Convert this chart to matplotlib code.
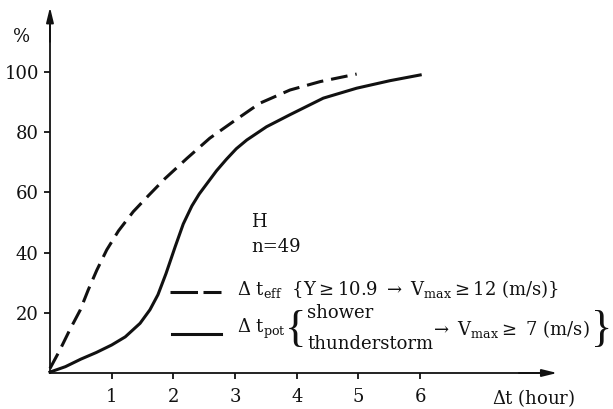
import numpy as np
import matplotlib
matplotlib.use("Agg")
from matplotlib import pyplot as plt

plt.rcParams['font.family'] = ['DejaVu Serif']
plt.rcParams['mathtext.fontset'] = 'dejavuserif'

# dashed curve: delta t_eff
eff_x = [0, 0.16, 0.32, 0.49, 0.62, 0.76, 0.92, 1.11, 1.35, 1.59, 1.86, 2.22, 2.59, 2.97, 3.40, 3.89, 4.38, 4.97]
eff_y = [1.5, 7.6, 14.3, 20.9, 27.6, 34.2, 40.9, 47.2, 53.6, 58.8, 64.5, 71.3, 78, 83.5, 89.6, 94, 96.8, 99.3]

# solid curve: delta t_pot
pot_x = [0, 0.25, 0.5, 0.75, 1.0, 1.22, 1.46, 1.62, 1.75, 1.88, 2.03, 2.16, 2.3, 2.42, 2.54, 2.7, 2.86,
         3.02, 3.19, 3.51, 3.89, 4.43, 4.97, 5.51, 6.0]
pot_y = [0.3, 2.1, 4.6, 6.8, 9.3, 12, 16.5, 21, 26, 33, 42, 49.5, 55.5, 59.5, 62.8, 67.2, 71,
         74.5, 77.4, 81.8, 85.8, 91.3, 94.6, 97.1, 99]

xticks = [1, 2, 3, 4, 5, 6]
yticks = [20, 40, 60, 80, 100]

ink = '#111111'

fig = plt.figure(figsize=(6.13, 4.09), dpi=100)
ax = fig.add_axes([0, 0, 1, 1])
ax.set_xlim(-0.81, 9.125)
ax.set_ylim(-11.96, 123.9)

ax.plot(eff_x, eff_y, color=ink, lw=2.2, dashes=(5.5, 2.6), solid_joinstyle='round')
ax.plot(pot_x, pot_y, color=ink, lw=2.2, solid_joinstyle='round')

# axes through the origin with arrows
for s in ['top', 'right']:
    ax.spines[s].set_visible(False)
ax.spines['left'].set_position(('data', 0))
ax.spines['bottom'].set_position(('data', 0))
ax.spines['left'].set_bounds(0, 118)
ax.spines['bottom'].set_bounds(0, 8.0)
for s in ['left', 'bottom']:
    ax.spines[s].set_linewidth(1.3)
    ax.spines[s].set_color(ink)
ax.annotate('', xy=(8.22, 0), xytext=(7.6, 0),
            arrowprops=dict(arrowstyle='-|>,head_length=0.9,head_width=0.22',
                            color=ink, lw=1.3, shrinkA=0, shrinkB=0))
ax.annotate('', xy=(0, 121.5), xytext=(0, 110),
            arrowprops=dict(arrowstyle='-|>,head_length=0.9,head_width=0.22',
                            color=ink, lw=1.3, shrinkA=0, shrinkB=0))

ax.set_xticks(xticks)
ax.set_yticks(yticks)
ax.tick_params(axis='x', direction='out', length=4, width=1.3, pad=7,
               labelsize=13, colors=ink)
ax.tick_params(axis='y', direction='out', length=4, width=1.3, pad=4,
               labelsize=13, colors=ink)

fw, fh = 613.0, 409.0
def px(x, y):
    return x / fw, 1 - y / fh

tkw = dict(transform=ax.transAxes, color=ink, fontsize=13, va='center')
ax.text(*px(22, 37), '%', ha='center', **tkw)
ax.text(*px(575, 398), r'$\Delta$t (hour)', ha='right', **tkw)
ax.text(*px(251, 222), 'H', ha='left', **tkw)
ax.text(*px(251, 247), 'n=49', ha='left', **tkw)

# legend keys
ax.plot([170 / fw, 221 / fw], [1 - 292 / fh, 1 - 292 / fh], transform=ax.transAxes,
        color=ink, lw=2.2, dashes=(9, 1.8))
ax.plot([172 / fw, 221 / fw], [1 - 334 / fh, 1 - 334 / fh], transform=ax.transAxes,
        color=ink, lw=2.2)

ax.text(*px(237, 289), r'$\Delta$ t$_{\rm eff}$  {Y$\geq$10.9 $\rightarrow$ V$_{\rm max}$$\geq$12 (m/s)}',
        ha='left', **tkw)
ax.text(*px(237, 329), r'$\Delta$ t$_{\rm pot}$', ha='left', **tkw)
brace = dict(transform=ax.transAxes, color=ink, fontsize=32, va='center', ha='center',
             family='Liberation Serif', fontweight='normal')
ax.text(*px(296, 330), '{', **brace)
ax.text(*px(307, 313), 'shower', ha='left', **tkw)
ax.text(*px(307, 344), 'thunderstorm', ha='left', **tkw)
ax.text(*px(430, 329), r'$\rightarrow$ V$_{\rm max}$$\geq$ 7 (m/s)', ha='left', **tkw)
ax.text(*px(602, 330), '}', **brace)

fig.savefig('out.png', dpi=100, facecolor='white')
